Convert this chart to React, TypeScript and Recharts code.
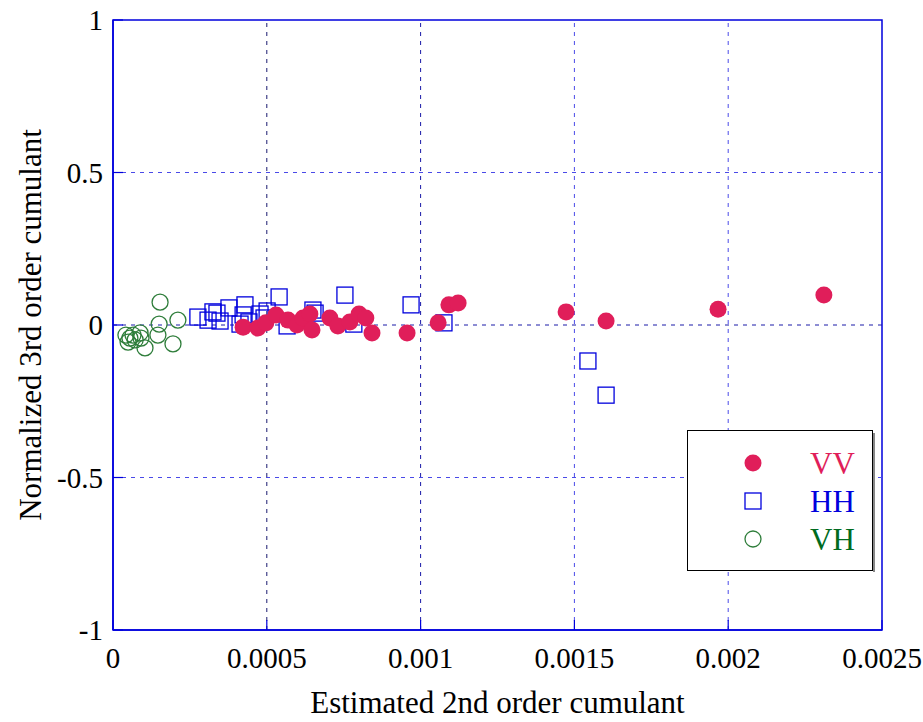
// Streudiagramm: normierter Kumulant 3. Ordnung gegen geschätzten Kumulanten 2. Ordnung.

import { ScatterChart, Scatter, XAxis, YAxis, ReferenceLine, ReferenceArea, Legend } from "recharts"

const FONT = "'Liberation Serif', 'Times New Roman', serif"

const xTicks = [0, 0.0005, 0.001, 0.0015, 0.002, 0.0025]
const yTicks = [-1, -0.5, 0, 0.5, 1]

const vvX = [0.000423, 0.000471, 0.000497, 0.00053, 0.000569, 0.000598, 0.000618, 0.00064, 0.000647, 0.000705, 0.000731, 0.00077, 0.0008, 0.000822, 0.000842, 0.000956, 0.001057, 0.001092, 0.001122, 0.001473, 0.001603, 0.001967, 0.002311]
const vvY = [-0.007, -0.01, 0.007, 0.033, 0.016, 0, 0.023, 0.036, -0.016, 0.023, -0.003, 0.01, 0.036, 0.023, -0.026, -0.026, 0.007, 0.066, 0.072, 0.043, 0.013, 0.052, 0.098]

const hhX = [0.000276, 0.000309, 0.000325, 0.000338, 0.000348, 0.000377, 0.000413, 0.000423, 0.000429, 0.000442, 0.000478, 0.000491, 0.000501, 0.00054, 0.000566, 0.00065, 0.000657, 0.000754, 0.000783, 0.000969, 0.001076, 0.001544, 0.001603]
const hhY = [0.026, 0.016, 0.043, 0.039, 0.013, 0.056, 0.003, 0.033, 0.066, 0.01, 0.036, 0.023, 0.046, 0.092, -0.003, 0.049, 0.039, 0.098, 0.003, 0.066, 0.007, -0.118, -0.23]

const vhX = [0.000153, 0.000211, 0.00015, 0.000146, 0.000195, 0.000104, 0.000042, 0.000055, 0.000065, 0.000088, 0.000072, 0.000049, 0.000091]
const vhY = [0.075, 0.016, 0.003, -0.033, -0.062, -0.075, -0.033, -0.043, -0.033, -0.026, -0.049, -0.056, -0.043]

const toPoints = (xs: number[], ys: number[]) => xs.map((x, i) => ({ x, y: ys[i] }))

const vvData = toPoints(vvX, vvY)
const hhData = toPoints(hhX, hhY)
const vhData = toPoints(vhX, vhY)

const RED = "#e01e5a"
const BLUE = "#0000dd"
const GREEN = "#2e7d3a"

const VVShape = (p: any) => <circle cx={p.cx} cy={p.cy} r={8.5} fill={RED} />
const HHShape = (p: any) => (
  <rect x={p.cx - 8} y={p.cy - 8} width={16} height={16} fill="none" stroke={BLUE} strokeWidth={1.3} />
)
const VHShape = (p: any) => <circle cx={p.cx} cy={p.cy} r={8} fill="none" stroke={GREEN} strokeWidth={1.3} />

function XTick({ x, y, payload }: any) {
  return (
    <g>
      <line x1={x} y1={y} x2={x} y2={y - 10} stroke={BLUE} strokeWidth={1.2} />
      <text x={x} y={y + 28} textAnchor="middle" dominantBaseline="central" fontFamily={FONT} fontSize={29} fill="#000">
        {payload.value}
      </text>
    </g>
  )
}

function YTick({ x, y, payload }: any) {
  return (
    <g>
      <line x1={x} y1={y} x2={x + 10} y2={y} stroke={BLUE} strokeWidth={1.2} />
      <text x={x - 10} y={y} textAnchor="end" dominantBaseline="central" fontFamily={FONT} fontSize={29} fill="#000">
        {payload.value}
      </text>
    </g>
  )
}

function LegendBox() {
  const rows = [
    { label: "VV", color: RED, icon: <circle cx={66} cy={33} r={8.5} fill={RED} /> },
    { label: "HH", color: BLUE, icon: <rect x={58} y={63} width={16} height={16} fill="none" stroke={BLUE} strokeWidth={1.3} /> },
    { label: "VH", color: "#006b1e", icon: <circle cx={66} cy={109} r={8} fill="none" stroke={GREEN} strokeWidth={1.3} /> },
  ]
  return (
    <svg width={188} height={143} style={{ display: "block" }}>
      <rect x={0.5} y={0.5} width={185} height={140} fill="#fff" stroke="#000" strokeWidth={1} />
      <line x1={187} y1={3} x2={187} y2={142} stroke="#888" strokeWidth={2} />
      {rows.map((r, i) => (
        <g key={r.label}>
          {r.icon}
          <text x={123} y={33 + i * 38} dominantBaseline="central" fontFamily={FONT} fontSize={31} fill={r.color}>
            {r.label}
          </text>
        </g>
      ))}
    </svg>
  )
}

export default function App() {
  return (
    <div style={{ position: "absolute", left: 0, top: 0, width: 923, height: 722, background: "#fff" }}>
      <ScatterChart width={923} height={722} margin={{ top: 20, right: 41, bottom: 0, left: 0 }}>
        <XAxis
          type="number"
          dataKey="x"
          domain={[0, 0.0025]}
          ticks={xTicks}
          interval={0}
          height={92}
          axisLine={{ stroke: BLUE, strokeWidth: 1.5 }}
          tickLine={false}
          tickSize={0}
          tickMargin={0}
          tick={<XTick />}
          label={{ value: "Estimated 2nd order cumulant", position: "insideBottom", offset: 9, fontFamily: FONT, fontSize: 31, fill: "#000" }}
        />
        <YAxis
          type="number"
          dataKey="y"
          domain={[-1, 1]}
          ticks={yTicks}
          interval={0}
          width={113}
          axisLine={{ stroke: BLUE, strokeWidth: 1.5 }}
          tickLine={false}
          tickSize={0}
          tickMargin={0}
          tick={<YTick />}
          label={{ value: "Normalized 3rd order cumulant", angle: -90, position: "insideLeft", offset: 30, style: { textAnchor: "middle" }, fontFamily: FONT, fontSize: 31, fill: "#000" }}
        />
        <ReferenceLine y={0.5} stroke="#4a4ae8" strokeDasharray="4 5" />
        <ReferenceLine y={-0.5} stroke="#4a4ae8" strokeDasharray="4 5" />
        <ReferenceLine y={0} stroke="#1a1aa8" strokeDasharray="4 5" />
        <ReferenceLine x={0.0005} stroke="#1a1a70" strokeDasharray="4 5" />
        <ReferenceLine x={0.001} stroke="#1a1aa8" strokeDasharray="4 5" />
        <ReferenceLine x={0.0015} stroke="#4a4ae8" strokeDasharray="4 5" />
        <ReferenceLine x={0.002} stroke="#4a4ae8" strokeDasharray="4 5" />
        <ReferenceArea x1={0} x2={0.0025} y1={-1} y2={1} fill="none" stroke={BLUE} strokeWidth={1.5} />
        <Scatter name="VH" data={vhData} shape={VHShape} isAnimationActive={false} />
        <Scatter name="HH" data={hhData} shape={HHShape} isAnimationActive={false} />
        <Scatter name="VV" data={vvData} shape={VVShape} isAnimationActive={false} />
        <Legend
          layout="horizontal"
          align="center"
          verticalAlign="middle"
          content={() => <LegendBox />}
          wrapperStyle={{ position: "absolute", left: 687, top: 430, width: 188, height: 143 }}
        />
      </ScatterChart>
    </div>
  )
}
